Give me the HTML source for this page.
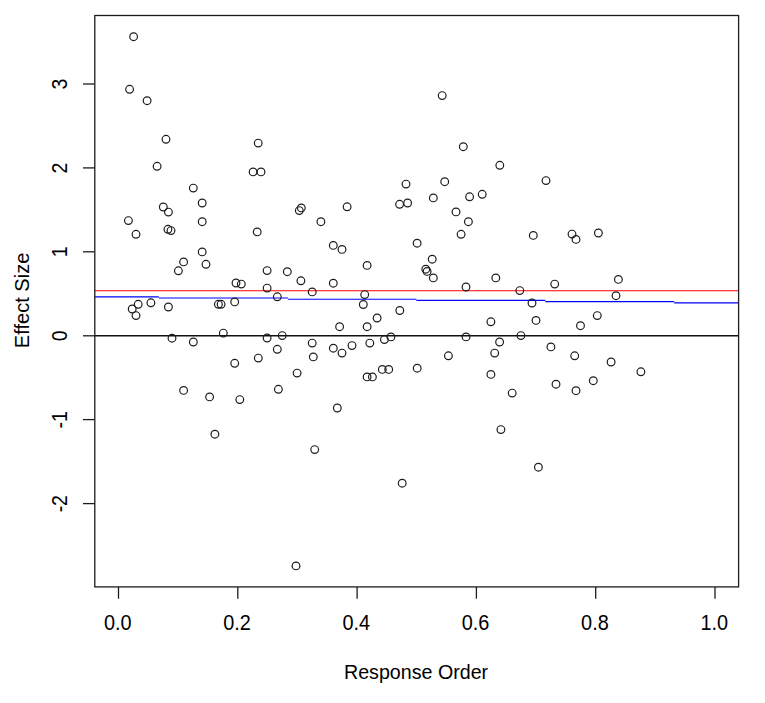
<!DOCTYPE html>
<html lang="en"><head><meta charset="utf-8"><title>Effect Size vs Response Order</title>
<style>html,body{margin:0;padding:0;background:#fff;}body{width:765px;height:703px;overflow:hidden;}svg{display:block;}text{font-family:"Liberation Sans",sans-serif;font-size:19.5px;fill:#000;}</style></head><body>
<svg width="765" height="703" viewBox="0 0 765 703">
<rect width="765" height="703" fill="#fff"/>
<g fill="none" stroke-width="1.2">
<line x1="94.8" y1="290.75" x2="738.6" y2="290.75" stroke="#ff0000"/>
<path d="M94.8 296.8 L158.7 296.8 M158.7 298.0 L287.9 298.0 M287.9 299.25 L416.4 299.25 M416.4 300.45 L545.3 300.45 M545.3 301.65 L674.2 301.65 M674.2 302.85 L738.6 302.85" stroke="#0000ff"/>
<line x1="94.8" y1="335.75" x2="738.6" y2="335.75" stroke="#111" stroke-width="1.35"/>
</g>
<g fill="none" stroke="#1c1c1c" stroke-width="1.2">
<circle cx="133.6" cy="36.7" r="3.85"/>
<circle cx="129.6" cy="89.3" r="3.85"/>
<circle cx="147.1" cy="100.7" r="3.85"/>
<circle cx="166.0" cy="139.3" r="3.85"/>
<circle cx="258.2" cy="143.1" r="3.85"/>
<circle cx="157.1" cy="166.3" r="3.85"/>
<circle cx="442.2" cy="95.6" r="3.85"/>
<circle cx="463.3" cy="146.7" r="3.85"/>
<circle cx="499.8" cy="165.3" r="3.85"/>
<circle cx="253.1" cy="171.9" r="3.85"/>
<circle cx="261.0" cy="171.9" r="3.85"/>
<circle cx="193.3" cy="188.1" r="3.85"/>
<circle cx="202.2" cy="203.0" r="3.85"/>
<circle cx="163.3" cy="207.0" r="3.85"/>
<circle cx="168.4" cy="212.1" r="3.85"/>
<circle cx="128.4" cy="220.6" r="3.85"/>
<circle cx="202.2" cy="221.7" r="3.85"/>
<circle cx="167.9" cy="229.3" r="3.85"/>
<circle cx="171.0" cy="230.6" r="3.85"/>
<circle cx="136.0" cy="234.3" r="3.85"/>
<circle cx="257.2" cy="231.9" r="3.85"/>
<circle cx="202.2" cy="251.9" r="3.85"/>
<circle cx="183.6" cy="261.9" r="3.85"/>
<circle cx="206.0" cy="264.3" r="3.85"/>
<circle cx="178.4" cy="270.8" r="3.85"/>
<circle cx="236.0" cy="283.0" r="3.85"/>
<circle cx="241.3" cy="284.1" r="3.85"/>
<circle cx="138.2" cy="304.3" r="3.85"/>
<circle cx="150.9" cy="302.8" r="3.85"/>
<circle cx="132.2" cy="309.0" r="3.85"/>
<circle cx="168.4" cy="307.0" r="3.85"/>
<circle cx="218.4" cy="304.3" r="3.85"/>
<circle cx="221.1" cy="304.3" r="3.85"/>
<circle cx="234.7" cy="301.9" r="3.85"/>
<circle cx="406.0" cy="184.1" r="3.85"/>
<circle cx="301.3" cy="207.9" r="3.85"/>
<circle cx="299.3" cy="210.6" r="3.85"/>
<circle cx="347.1" cy="206.8" r="3.85"/>
<circle cx="399.6" cy="204.3" r="3.85"/>
<circle cx="407.6" cy="203.0" r="3.85"/>
<circle cx="320.9" cy="221.7" r="3.85"/>
<circle cx="333.3" cy="245.4" r="3.85"/>
<circle cx="342.0" cy="249.4" r="3.85"/>
<circle cx="417.1" cy="243.2" r="3.85"/>
<circle cx="367.1" cy="265.4" r="3.85"/>
<circle cx="267.1" cy="270.6" r="3.85"/>
<circle cx="287.3" cy="271.7" r="3.85"/>
<circle cx="300.9" cy="280.8" r="3.85"/>
<circle cx="333.3" cy="283.2" r="3.85"/>
<circle cx="267.1" cy="288.1" r="3.85"/>
<circle cx="312.2" cy="291.9" r="3.85"/>
<circle cx="277.3" cy="296.8" r="3.85"/>
<circle cx="364.7" cy="294.6" r="3.85"/>
<circle cx="363.3" cy="304.5" r="3.85"/>
<circle cx="399.8" cy="310.5" r="3.85"/>
<circle cx="444.7" cy="181.7" r="3.85"/>
<circle cx="546.0" cy="180.6" r="3.85"/>
<circle cx="433.3" cy="197.9" r="3.85"/>
<circle cx="469.6" cy="196.8" r="3.85"/>
<circle cx="482.2" cy="194.3" r="3.85"/>
<circle cx="456.0" cy="211.9" r="3.85"/>
<circle cx="468.4" cy="221.7" r="3.85"/>
<circle cx="461.1" cy="234.3" r="3.85"/>
<circle cx="533.3" cy="235.4" r="3.85"/>
<circle cx="572.0" cy="234.1" r="3.85"/>
<circle cx="576.0" cy="239.4" r="3.85"/>
<circle cx="432.2" cy="259.2" r="3.85"/>
<circle cx="425.8" cy="269.2" r="3.85"/>
<circle cx="427.1" cy="271.4" r="3.85"/>
<circle cx="433.3" cy="277.9" r="3.85"/>
<circle cx="495.8" cy="277.9" r="3.85"/>
<circle cx="466.0" cy="287.0" r="3.85"/>
<circle cx="554.7" cy="284.1" r="3.85"/>
<circle cx="519.8" cy="290.6" r="3.85"/>
<circle cx="532.0" cy="303.0" r="3.85"/>
<circle cx="598.4" cy="233.0" r="3.85"/>
<circle cx="618.4" cy="279.4" r="3.85"/>
<circle cx="616.0" cy="295.7" r="3.85"/>
<circle cx="136.0" cy="315.6" r="3.85"/>
<circle cx="223.3" cy="333.1" r="3.85"/>
<circle cx="172.0" cy="338.2" r="3.85"/>
<circle cx="193.3" cy="342.0" r="3.85"/>
<circle cx="258.3" cy="358.1" r="3.85"/>
<circle cx="234.7" cy="363.3" r="3.85"/>
<circle cx="183.6" cy="390.4" r="3.85"/>
<circle cx="209.6" cy="396.9" r="3.85"/>
<circle cx="239.8" cy="399.6" r="3.85"/>
<circle cx="214.9" cy="434.2" r="3.85"/>
<circle cx="377.1" cy="318.0" r="3.85"/>
<circle cx="339.6" cy="326.7" r="3.85"/>
<circle cx="367.1" cy="326.7" r="3.85"/>
<circle cx="282.2" cy="335.6" r="3.85"/>
<circle cx="267.1" cy="338.0" r="3.85"/>
<circle cx="390.9" cy="336.9" r="3.85"/>
<circle cx="384.4" cy="339.6" r="3.85"/>
<circle cx="312.2" cy="343.1" r="3.85"/>
<circle cx="369.8" cy="343.1" r="3.85"/>
<circle cx="352.0" cy="345.6" r="3.85"/>
<circle cx="333.3" cy="348.2" r="3.85"/>
<circle cx="277.3" cy="349.3" r="3.85"/>
<circle cx="342.0" cy="353.1" r="3.85"/>
<circle cx="313.3" cy="356.9" r="3.85"/>
<circle cx="297.1" cy="373.1" r="3.85"/>
<circle cx="417.2" cy="368.2" r="3.85"/>
<circle cx="382.3" cy="369.4" r="3.85"/>
<circle cx="388.7" cy="369.4" r="3.85"/>
<circle cx="367.1" cy="376.9" r="3.85"/>
<circle cx="372.4" cy="376.9" r="3.85"/>
<circle cx="278.4" cy="389.3" r="3.85"/>
<circle cx="337.3" cy="408.0" r="3.85"/>
<circle cx="314.7" cy="449.6" r="3.85"/>
<circle cx="490.9" cy="321.8" r="3.85"/>
<circle cx="536.0" cy="320.4" r="3.85"/>
<circle cx="580.5" cy="325.7" r="3.85"/>
<circle cx="466.0" cy="336.9" r="3.85"/>
<circle cx="520.9" cy="335.6" r="3.85"/>
<circle cx="499.6" cy="342.0" r="3.85"/>
<circle cx="550.9" cy="346.9" r="3.85"/>
<circle cx="494.7" cy="353.1" r="3.85"/>
<circle cx="448.4" cy="355.8" r="3.85"/>
<circle cx="574.7" cy="355.8" r="3.85"/>
<circle cx="490.9" cy="374.4" r="3.85"/>
<circle cx="556.0" cy="384.2" r="3.85"/>
<circle cx="576.0" cy="390.7" r="3.85"/>
<circle cx="512.2" cy="393.1" r="3.85"/>
<circle cx="500.9" cy="429.6" r="3.85"/>
<circle cx="597.3" cy="315.6" r="3.85"/>
<circle cx="611.1" cy="362.0" r="3.85"/>
<circle cx="640.9" cy="371.8" r="3.85"/>
<circle cx="593.3" cy="380.7" r="3.85"/>
<circle cx="402.2" cy="483.2" r="3.85"/>
<circle cx="296.0" cy="565.9" r="3.85"/>
<circle cx="538.4" cy="467.2" r="3.85"/>
</g>
<g fill="none" stroke="#1c1c1c" stroke-width="1.3">
<rect x="94.8" y="15.5" width="643.8000000000001" height="571.4"/>
<line x1="118.5" y1="586.9" x2="118.5" y2="598.6999999999999"/>
<line x1="237.8" y1="586.9" x2="237.8" y2="598.6999999999999"/>
<line x1="357.1" y1="586.9" x2="357.1" y2="598.6999999999999"/>
<line x1="476.4" y1="586.9" x2="476.4" y2="598.6999999999999"/>
<line x1="595.7" y1="586.9" x2="595.7" y2="598.6999999999999"/>
<line x1="715.0" y1="586.9" x2="715.0" y2="598.6999999999999"/>
<line x1="83.0" y1="84.0" x2="94.8" y2="84.0"/>
<line x1="83.0" y1="167.9" x2="94.8" y2="167.9"/>
<line x1="83.0" y1="251.8" x2="94.8" y2="251.8"/>
<line x1="83.0" y1="335.8" x2="94.8" y2="335.8"/>
<line x1="83.0" y1="419.6" x2="94.8" y2="419.6"/>
<line x1="83.0" y1="503.6" x2="94.8" y2="503.6"/>
</g>
<g text-anchor="middle">
<text transform="translate(117.7 630.05) scale(1.02 1.175)">0.0</text>
<text transform="translate(237.0 630.05) scale(1.02 1.175)">0.2</text>
<text transform="translate(356.3 630.05) scale(1.02 1.175)">0.4</text>
<text transform="translate(475.6 630.05) scale(1.02 1.175)">0.6</text>
<text transform="translate(594.9 630.05) scale(1.02 1.175)">0.8</text>
<text transform="translate(714.2 630.05) scale(1.02 1.175)">1.0</text>
<text transform="translate(416.05 679.4) scale(1.008 1.08)">Response Order</text>
<text transform="translate(67.0 84.1) rotate(-90) scale(1 1.16)">3</text>
<text transform="translate(67.0 168.0) rotate(-90) scale(1 1.16)">2</text>
<text transform="translate(67.0 251.9) rotate(-90) scale(1 1.16)">1</text>
<text transform="translate(67.0 335.9) rotate(-90) scale(1 1.16)">0</text>
<text transform="translate(67.0 419.8) rotate(-90) scale(1 1.16)">-1</text>
<text transform="translate(67.0 503.7) rotate(-90) scale(1 1.16)">-2</text>
<text transform="translate(28.8 300.4) rotate(-90) scale(1.03 1.03)">Effect Size</text>
</g>
</svg></body></html>
